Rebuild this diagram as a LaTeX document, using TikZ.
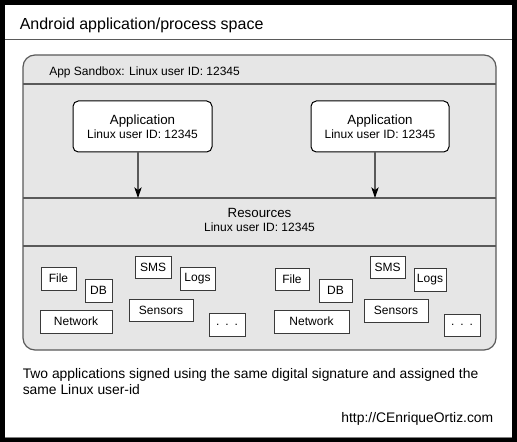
\documentclass[tikz,border=0pt]{standalone}
\usepackage{fontspec}
\setmainfont{Liberation Sans}
\usetikzlibrary{arrows.meta}
\definecolor{sbfill}{HTML}{E6E6E6}
\definecolor{sbline}{HTML}{5A5A5A}
\definecolor{boxline}{HTML}{3A3A3A}
\begin{document}
\begin{tikzpicture}[x=0.75pt,y=-0.75pt,
  appbox/.style={draw=black, fill=white, line width=0.75pt, rounded corners=4pt,
    minimum width=#1*0.75pt, minimum height=51*0.75pt, inner sep=0pt, align=center,
    font=\fontsize{9}{10.5}\selectfont},
  resbox/.style={draw=boxline, fill=white, line width=0.75pt, inner sep=0pt,
    font=\fontsize{9}{10}\selectfont},
  conn/.style={draw=sbline, line width=0.8pt, arrows={-Stealth[length=8pt,width=5.5pt,inset=2pt,fill=black,color=black]}},
  sepline/.style={draw=sbline, line width=0.9pt}
]
\useasboundingbox (0,0) rectangle (517,442);
% outer frame
\fill[black] (0,0) rectangle (517,442);
\fill[white] (5,5) rectangle (512,437);
\draw[gray, line width=0.75pt] (5,437) -- (512,437);
% title
\node[anchor=base west, inner sep=0pt, font=\fontsize{12}{14}\selectfont] (title) at (19.5,30) {Android application/process space};
\draw[draw=sbline, line width=0.75pt] (5,39.5) -- (512,39.5);
% sandbox
\draw[sepline, fill=sbfill, rounded corners=9pt] (23,55) rectangle (496,350);
\node[anchor=base west, inner sep=0pt, font=\fontsize{9}{10}\selectfont] (sbt) at (49,76) {App Sandbox: Linux user ID: 12345};
\draw[sepline] (23,84) -- (496,84);
\draw[sepline] (23,198) -- (496,198);
\draw[sepline] (23,246) -- (496,246);
% applications
\node[appbox=139] (app1) at (142.5,126.5) {{\fontsize{10}{10.5}\selectfont Application}\\Linux user ID: 12345};
\node[appbox=138] (app2) at (380,126.5) {{\fontsize{10}{10.5}\selectfont Application}\\Linux user ID: 12345};
\coordinate (r1) at (138,198);
\coordinate (r2) at (375,198);
\draw[conn] (app1.south -| r1) -- (r1);
\draw[conn] (app2.south -| r2) -- (r2);
% resources
\node[align=center, inner sep=0pt, font=\fontsize{9}{10.5}\selectfont] (res) at (259.5,219.5) {{\fontsize{10}{10.5}\selectfont Resources}\\Linux user ID: 12345};
% left group
\node[resbox, minimum width=35*0.75pt, minimum height=23*0.75pt] (file1) at (58.5,278.5) {File};
\node[resbox, minimum width=27*0.75pt, minimum height=23*0.75pt] (db1) at (98.5,290.5) {DB};
\node[resbox, minimum width=36*0.75pt, minimum height=22*0.75pt] (sms1) at (153,267) {SMS};
\node[resbox, minimum width=35*0.75pt, minimum height=23*0.75pt] (logs1) at (197.5,278.5) {Logs};
\node[resbox, minimum width=64*0.75pt, minimum height=22*0.75pt] (sens1) at (161,310) {Sensors};
\node[resbox, minimum width=72*0.75pt, minimum height=23*0.75pt] (net1) at (76,321.5) {Network};
\node[resbox, minimum width=36*0.75pt, minimum height=23*0.75pt] (more1) at (227,324.5) {.\hspace{0.5em}.\hspace{0.5em}.};
% right group
\node[resbox, minimum width=34*0.75pt, minimum height=22*0.75pt] (file2) at (292,279) {File};
\node[resbox, minimum width=33*0.75pt, minimum height=23*0.75pt] (db2) at (335.5,290.5) {DB};
\node[resbox, minimum width=35*0.75pt, minimum height=22*0.75pt] (sms2) at (387.5,267) {SMS};
\node[resbox, minimum width=32*0.75pt, minimum height=23*0.75pt] (logs2) at (430,279.5) {Logs};
\node[resbox, minimum width=64*0.75pt, minimum height=23*0.75pt] (sens2) at (396,310.5) {Sensors};
\node[resbox, minimum width=75*0.75pt, minimum height=23*0.75pt] (net2) at (311.5,321.5) {Network};
\node[resbox, minimum width=36*0.75pt, minimum height=22*0.75pt] (more2) at (462,325) {.\hspace{0.5em}.\hspace{0.5em}.};
% caption
\node[anchor=base west, inner sep=0pt, font=\fontsize{10.4}{12}\selectfont] (cap1) at (22.5,378) {Two applications signed using the same digital signature and assigned the};
\node[anchor=base west, inner sep=0pt, font=\fontsize{10.4}{12}\selectfont] (cap2) at (22.5,394) {same Linux user-id};
\node[anchor=base east, inner sep=0pt, font=\fontsize{10.4}{12}\selectfont] (url) at (493.5,422) {http://CEnriqueOrtiz.com};
\end{tikzpicture}
\end{document}
